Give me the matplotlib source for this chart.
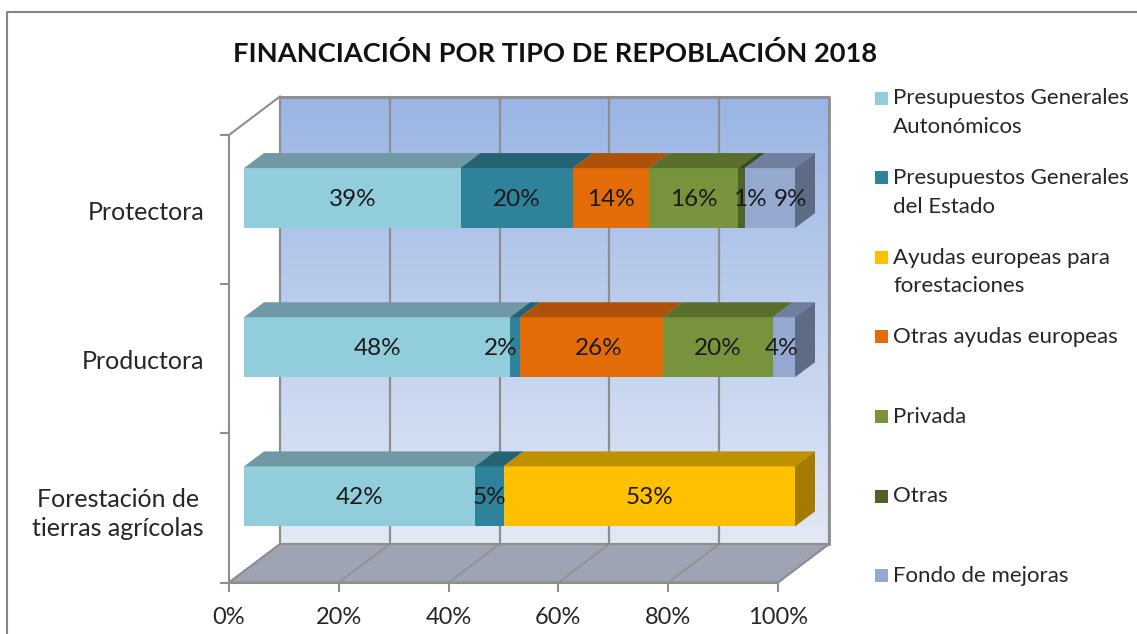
import matplotlib
matplotlib.use('Agg')
import matplotlib.pyplot as plt
import numpy as np
from matplotlib.lines import Line2D
from matplotlib.patches import Polygon, Rectangle
from matplotlib.colors import LinearSegmentedColormap

plt.rcParams['font.family'] = ['Lato', 'DejaVu Sans']

titulo = 'FINANCIACIÓN POR TIPO DE REPOBLACIÓN 2018'
categorias = ['Forestación de\ntierras agrícolas', 'Productora', 'Protectora']
series = ['Presupuestos Generales\nAutonómicos', 'Presupuestos Generales\ndel Estado',
          'Ayudas europeas para\nforestaciones', 'Otras ayudas europeas', 'Privada', 'Otras',
          'Fondo de mejoras']

# valores por categoria, mismo orden que categorias
pg_autonomicos = [41.9, 48.3, 39.3]
pg_estado = [5.2, 1.8, 20.4]
ayudas_forestacion = [52.9, 0, 0]
otras_europeas = [0, 25.9, 13.8]
privada = [0, 20.0, 16.2]
otras = [0, 0, 1.2]
fondo_mejoras = [0, 4.0, 9.1]
valores = [pg_autonomicos, pg_estado, ayudas_forestacion, otras_europeas, privada, otras, fondo_mejoras]

frente = ['#92CDDC', '#2E8299', '#FFC000', '#E36C09', '#77933C', '#4F6228', '#95A9D0']
arriba = ['#7099A5', '#246373', '#BF9000', '#AD5208', '#5A6E2D', '#3C4A1E', '#717F9E']
lado = ['#5F828C', '#1E5462', '#A37B00', '#934607', '#4C5E26', '#333F1A', '#5D6B85']

# etiquetas que estan movidas a mano en el original (serie, categoria): pixeles
mover = {(1, 1): -14, (3, 1): 7, (5, 2): 8, (6, 2): 21, (6, 1): -2}

W, H = 1137, 634
fig = plt.figure(figsize=(W / 100, H / 100), dpi=100)

# eje en el plano frontal del grafico 3D
x0, x1, y0, y1 = 229, 778, 582.5, 135
ax = fig.add_axes([x0 / W, 1 - y0 / H, (x1 - x0) / W, (y0 - y1) / H])
ax.set_facecolor('none')
px = 100 / (x1 - x0)
py = 3 / (y0 - y1)

gris = '#8E8E8E'
fx, fy = 51 * px, 38.5 * py  # fondo de la caja
bx, by = 15 * px, 11.5 * py  # inicio de la barra
dx, dy = 20 * px, 15 * py    # profundidad de la barra
alto = 60 * py
escala = 551 / 549

degradado = LinearSegmentedColormap.from_list('pared', ['#9AB5E4', '#E2E9F6'])
ax.imshow(np.linspace(0, 1, 256).reshape(-1, 1), cmap=degradado, aspect='auto',
          extent=(fx, 100 + fx, fy, 3 + fy), zorder=0, clip_on=False)
ax.add_patch(Polygon([(0, 0), (100, 0), (100 + fx, fy), (fx, fy)], closed=True, facecolor='#9EA4B3',
                     edgecolor=gris, linewidth=1.5, zorder=1, clip_on=False))

ticks_x = [0, 20, 40, 60, 80, 100]
for t in ticks_x:
    ax.plot([t, t + fx], [0, fy], color=gris, lw=1.1, zorder=2, clip_on=False)
    ax.plot([t + fx, t + fx], [fy, 3 + fy], color=gris, lw=1.6, zorder=2, clip_on=False)
ax.plot([fx, 100 + fx, 100 + fx], [3 + fy, 3 + fy, fy], color=gris, lw=2, zorder=2, clip_on=False)
ax.plot([0, fx], [3, 3 + fy], color=gris, lw=1.5, zorder=2, clip_on=False)

for i in range(len(categorias)):
    base = i + 0.5 + by - alto / 2
    acum = 0
    ultimo = max(s for s in range(len(series)) if valores[s][i] > 0)
    for s in range(len(series)):
        v = valores[s][i]
        if v == 0:
            continue
        a = acum * escala + bx
        b = (acum + v) * escala + bx
        ax.add_patch(Rectangle((a, base), b - a, alto, facecolor=frente[s], edgecolor='none', zorder=3, clip_on=False))
        ax.add_patch(Polygon([(a, base + alto), (b, base + alto), (b + dx, base + alto + dy), (a + dx, base + alto + dy)],
                             closed=True, facecolor=arriba[s], edgecolor='none', zorder=3, clip_on=False))
        if s == ultimo:
            ax.add_patch(Polygon([(b, base), (b + dx, base + dy), (b + dx, base + alto + dy), (b, base + alto)],
                                 closed=True, facecolor=lado[s], edgecolor='none', zorder=3, clip_on=False))
        xt = (a + b) / 2 + mover.get((s, i), 0) * px
        ax.text(xt, i + 0.5 + by - 1 * py, f'{v:.0f}%', ha='center', va='center', fontsize=17.5, color='#1A1A1A',
                zorder=5, clip_on=False)
        acum += v

ax.set_xlim(0, 100)
ax.set_ylim(0, 3)
ax.set_xticks(ticks_x)
ax.set_xticklabels([f'{t}%' for t in ticks_x], fontsize=17, color='#262626')
ax.set_yticks([0, 1, 2, 3])
ax.set_yticklabels([])
ax.set_yticks([0.5 - 1 * py, 1.5 - 1 * py, 2.5 - 1 * py], minor=True)
ax.set_yticklabels(categorias, minor=True, fontsize=18, color='#262626', multialignment='center', linespacing=1.3)
ax.tick_params(axis='x', length=6.5, width=1.5, color=gris, pad=11.5)
ax.tick_params(axis='y', which='major', length=6.5, width=1.5, color=gris)
ax.tick_params(axis='y', which='minor', length=0, pad=18)
for sp in ['top', 'right']:
    ax.spines[sp].set_visible(False)
for sp in ['left', 'bottom']:
    ax.spines[sp].set_color(gris)
    ax.spines[sp].set_linewidth(1.5)

# titulo y marco
fig.text(555.5 / W, 1 - 54 / H, titulo, ha='center', va='center', fontsize=19.6, fontweight='bold', color='#111111')
fig.add_artist(Line2D([7 / W, 7 / W, 1], [0, 1 - 12 / H, 1 - 12 / H], color='#868686', lw=1.5))

# leyenda
lx, ly, paso, lado_ley = 875, 98, 79.6, 13
for s, nombre in enumerate(series):
    yc = ly + s * paso
    fig.add_artist(Rectangle((lx / W, 1 - (yc + lado_ley / 2) / H), lado_ley / W, lado_ley / H, facecolor=frente[s],
                             edgecolor='none', transform=fig.transFigure))
    fig.text(893 / W, 1 - (yc - 9.5) / H, nombre, ha='left', va='top', fontsize=16, color='#262626', linespacing=1.55)

fig.savefig('out.png', dpi=100)
